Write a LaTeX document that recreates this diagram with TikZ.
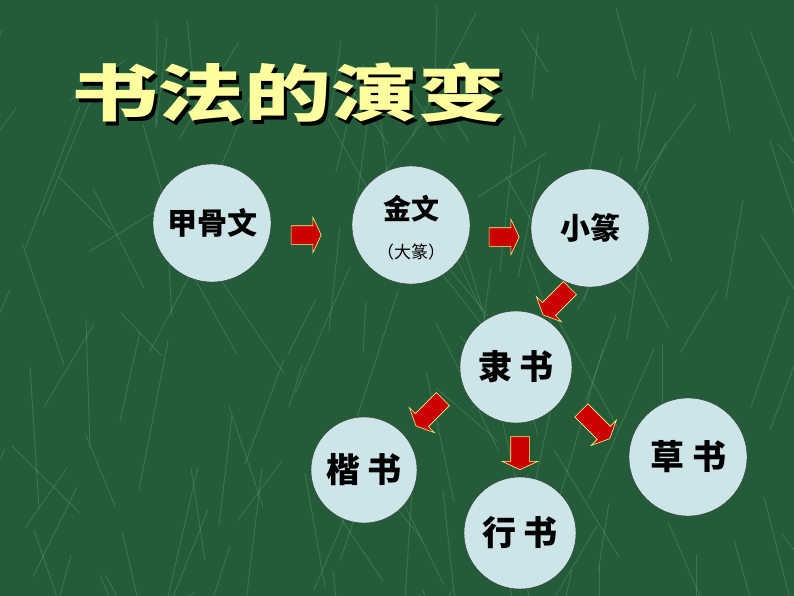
\documentclass[tikz,border=0pt]{standalone}
\usepackage{fontspec}
\newfontfamily\cjk{Noto Sans CJK SC}
\usetikzlibrary{positioning}
\usetikzlibrary{shapes.arrows}
\definecolor{marble}{RGB}{36,92,57}
\definecolor{vein}{RGB}{110,175,130}
\definecolor{disc}{RGB}{205,229,232}
\definecolor{titleyellow}{RGB}{255,255,160}
\definecolor{arrowred}{RGB}{205,0,0}

\begin{document}
\begin{tikzpicture}[x=1pt,y=-1pt,semithick]
	\tikzstyle{script}=[circle,draw=black!80,thin,fill=disc,inner sep=0pt,minimum size=118pt,
		font=\cjk\bfseries\fontsize{30}{30}\selectfont]
	\tikzstyle{big script}=[script,font=\cjk\bfseries\fontsize{34}{34}\selectfont]
	\tikzstyle{flow}=[single arrow,fill=arrowred,draw=yellow!50,line width=0.6pt,inner xsep=0pt,inner ysep=9pt,
		minimum height=30pt,single arrow head extend=8.5pt,single arrow tip angle=130]
	\tikzstyle{heading}=[font=\cjk\bfseries\fontsize{62}{62}\selectfont,xscale=1.4]

	\useasboundingbox (0,0) rectangle (794,596);
	% marble background
	\begin{scope}
		\clip (0,0) rectangle (794,596);
		\fill[marble] (0,0) rectangle (794,596);
		\pgfmathsetseed{17}
		\foreach \i in {1,...,140}{
			\pgfmathsetmacro{\vx}{random(0,794)}
			\pgfmathsetmacro{\vy}{random(0,596)}
			\pgfmathsetmacro{\dx}{random(-70,70)}
			\pgfmathsetmacro{\dy}{random(40,150)}
			\draw[vein,opacity=0.3,line width=0.9pt] (\vx,\vy) -- ++(\dx,\dy);
		}
	\end{scope}

	% title
	\node[heading,text=black] (titleshadow) at (291,97) {书法的演变};
	\node[heading,text=titleyellow] (title) at (288,93) {书法的演变};

	% scripts
	\node[script] (jiagu)  at (212,223) {甲骨文};
	\node[script] (jinwen) at (411,225) {};
	\node[font=\cjk\bfseries\fontsize{28}{28}\selectfont] (jinwentext) at (411,209) {金文};
	\node[font=\cjk\fontsize{17}{17}\selectfont] (dazhuan) [below=14pt of jinwentext] {（大篆）};
	\node[script] (xiaozhuan) at (590,228) {小篆};
	\node[big script,minimum size=112pt] (lishu) at (516,367) {隶\hspace{8pt}书};
	\node[big script,minimum size=106pt] (kaishu) at (364,470) {楷\hspace{8pt}书};
	\node[big script,minimum size=112pt] (xingshu) at (520,533) {行\hspace{8pt}书};
	\node[big script] (caoshu) at (688,457) {草\hspace{8pt}书};

	% arrows
	\node[flow] (a1) at (304,235) {};
	\node[flow] (a2) at (502,237) {};
	\node[flow,rotate=-135,minimum height=38pt] (a3) at (558,300) {};
	\node[flow,rotate=-135,minimum height=38pt] (a4) at (431,411) {};
	\node[flow,rotate=-90,minimum height=33pt] (a5) at (520,451) {};
	\node[flow,rotate=-45,minimum height=40pt] (a6) at (594,423) {};
\end{tikzpicture}
\end{document}
